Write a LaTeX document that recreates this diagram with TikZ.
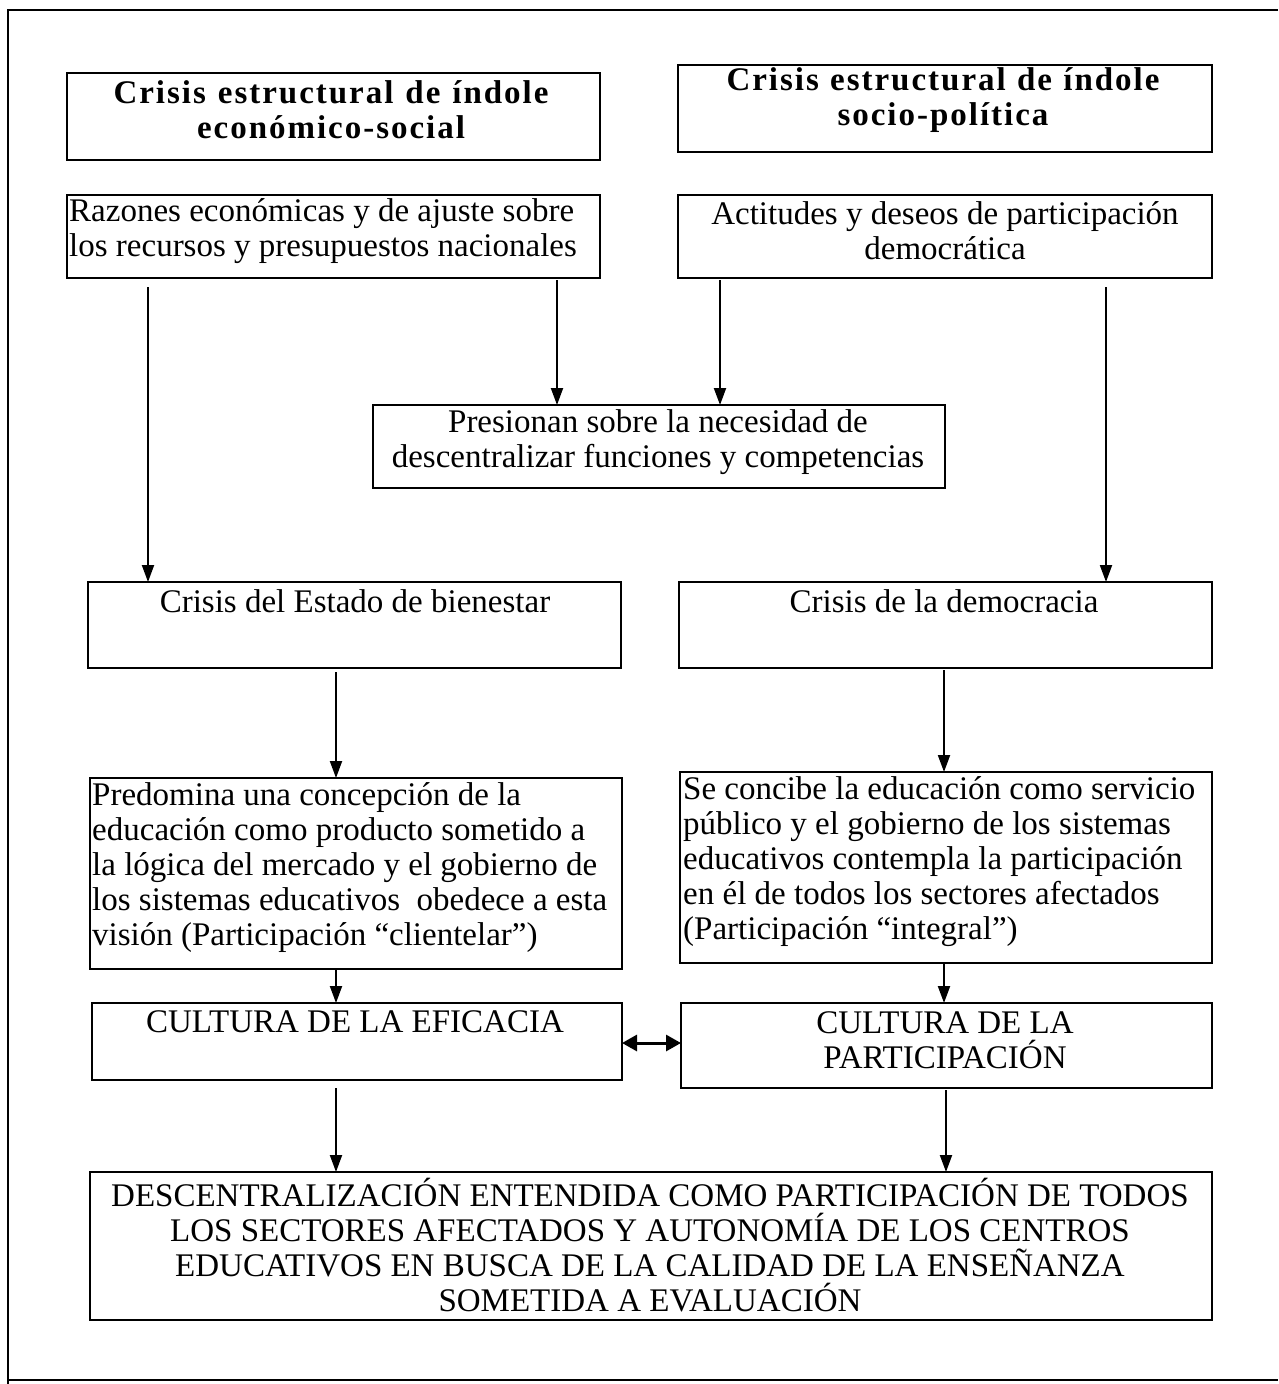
\documentclass[tikz,border=0pt]{standalone}
\usepackage{fontspec}
\setmainfont{Liberation Serif}
\usetikzlibrary{arrows.meta}
\tikzset{
  box/.style={draw, line width=2.8pt, inner sep=0pt, outer sep=0pt, rectangle},
  txt/.style={inner sep=0pt, font=\fontsize{33}{35}\selectfont},
  ttl/.style={inner sep=0pt, font=\fontsize{33}{35}\selectfont\bfseries\addfontfeatures{LetterSpace=6}},
  arr/.style={line width=2pt, -{Triangle[length=17pt,width=12pt]}},
  darr/.style={line width=3pt, {Triangle[length=15pt,width=16pt]}-{Triangle[length=15pt,width=16pt]}},
  frame/.style={line width=1.8pt}
}
\newcommand{\bx}[5]{\node[box, minimum width={(#4-#2)*1pt}, minimum height={(#5-#3)*1pt}] (#1) at ({(#2+#4)/2},{(#3+#5)/2}) {};}
\begin{document}
\begin{tikzpicture}[x=1pt,y=-1pt]
\useasboundingbox (0,0) rectangle (1278,1384);
% outer frame
\coordinate (fa) at (1278,10);
\coordinate (fb) at (8,10);
\coordinate (fc) at (8,1384);
\coordinate (fd) at (8,1380);
\coordinate (fe) at (1278,1380);
\draw[frame] (fa) -- (fb) -- (fc);
\draw[frame] (fd) -- (fe);
% boxes
\bx{b1}{67}{73}{600}{160}
\bx{b2}{678}{65}{1212}{152}
\bx{b3}{67}{195}{600}{278}
\bx{b4}{678}{195}{1212}{278}
\bx{b5}{373}{405}{945}{488}
\bx{b6}{88}{582}{621}{668}
\bx{b7}{679}{582}{1212}{668}
\bx{b8}{90}{778}{622}{969}
\bx{b9}{680}{772}{1212}{963}
\bx{b10}{92}{1003}{622}{1080}
\bx{b11}{681}{1003}{1212}{1088}
\bx{b12}{90}{1172}{1212}{1320}
% texts
\node[ttl, align=center] (t1) at (331,109.5) {\makebox[435pt][s]{Crisis estructural de índole}\\económico-social};
\node[ttl, align=center] (t2) at (943,100) {\makebox[433pt][s]{Crisis estructural de índole}\\socio-política};
\node[txt, align=left, anchor=west] (t3) at (69,231) {Razones económicas y de ajuste sobre\\los recursos y presupuestos nacionales};
\node[txt, align=center] (t4) at (945,231) {Actitudes y deseos de participación\\democrática};
\node[txt, align=center] (t5) at (658,442) {Presionan sobre la necesidad de\\descentralizar funciones y competencias};
\node[txt] (t6) at (355,601) {Crisis del Estado de bienestar};
\node[txt] (t7) at (944,601) {Crisis de la democracia};
\node[txt, align=left, anchor=west] (t8) at (92,868) {Predomina una concepción de la\\educación como producto sometido a\\la lógica del mercado y el gobierno de\\los sistemas educativos\ \ obedece a esta\\visión (Participación “clientelar”)};
\node[txt, align=left, anchor=west] (t9) at (683,862) {Se concibe la educación como servicio\\público y el gobierno de los sistemas\\educativos contempla la participación\\en él de todos los sectores afectados\\(Participación “integral”)};
\node[txt] (t10) at (355,1022) {CULTURA DE LA EFICACIA};
\node[txt, align=center] (t11) at (945,1040) {CULTURA DE LA\\PARTICIPACIÓN};
\node[txt, align=center] (t12) at (650,1245) {DESCENTRALIZACIÓN ENTENDIDA COMO PARTICIPACIÓN DE TODOS\\LOS SECTORES AFECTADOS Y AUTONOMÍA DE LOS CENTROS\\EDUCATIVOS EN BUSCA DE LA CALIDAD DE LA ENSEÑANZA\\SOMETIDA A EVALUACIÓN};
% arrows
\draw[arr, shorten <=9pt] ([xshift=81pt]b3.south west) -- ([xshift=81pt]b3.south west |- b6.north);
\draw[arr, shorten <=2pt] ([xshift=490pt]b3.south west) -- ([xshift=490pt]b3.south west |- b5.north);
\draw[arr, shorten <=2pt] ([xshift=42pt]b4.south west) -- ([xshift=42pt]b4.south west |- b5.north);
\draw[arr, shorten <=9pt] ([xshift=428pt]b4.south west) -- ([xshift=428pt]b4.south west |- b7.north);
\draw[arr, shorten <=4pt] ([xshift=248pt]b6.south west) -- ([xshift=248pt]b6.south west |- b8.north);
\draw[arr, shorten <=2pt] ([xshift=265pt]b7.south west) -- ([xshift=265pt]b7.south west |- b9.north);
\draw[arr] ([xshift=246pt]b8.south west) -- ([xshift=246pt]b8.south west |- b10.north);
\draw[arr] ([xshift=264pt]b9.south west) -- ([xshift=264pt]b9.south west |- b11.north);
\draw[arr, shorten <=8pt] ([xshift=244pt]b10.south west) -- ([xshift=244pt]b10.south west |- b12.north);
\draw[arr, shorten <=2pt] ([xshift=265pt]b11.south west) -- ([xshift=265pt]b11.south west |- b12.north);
\draw[darr] (b10.east |- 0,1043) -- (b11.west |- 0,1043);
\end{tikzpicture}
\end{document}
